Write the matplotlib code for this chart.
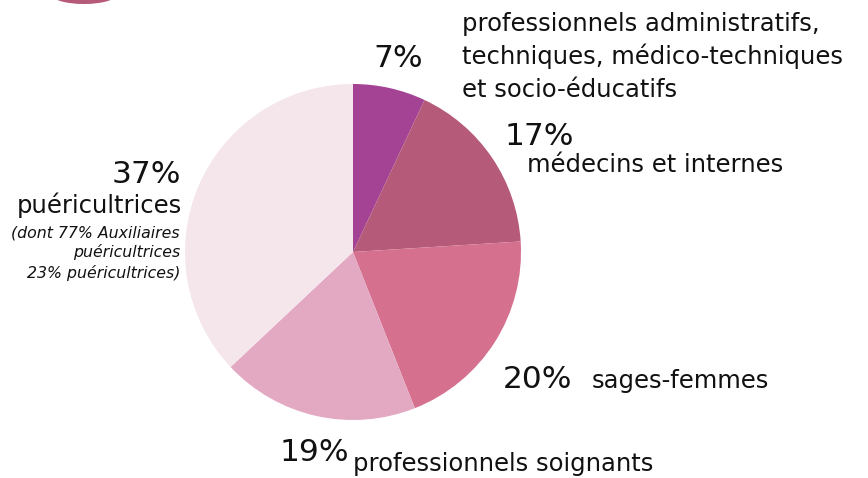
import matplotlib
matplotlib.use("Agg")
import matplotlib.pyplot as plt
from matplotlib.patches import Ellipse

# data
shares = [7, 17, 20, 19, 37]
pct_labels = ["7%", "17%", "20%", "19%", "37%"]
colors = ["#A44394", "#B55A78", "#D5708F", "#E3A9C3", "#F5E6EC"]
cat_labels = [
    ["professionnels administratifs,", "techniques, médico-techniques", "et socio-éducatifs"],
    "médecins et internes",
    "sages-femmes",
    "professionnels soignants",
    "puéricultrices",
]
note = ["(dont 77% Auxiliaires", "puéricultrices", "23% puéricultrices)"]

W, H = 868, 478
fig = plt.figure(figsize=(W / 100, H / 100), dpi=100)
ax = fig.add_axes([0, 0, 1, 1])

ax.pie(shares, colors=colors, startangle=90, counterclock=False,
       center=(353, H - 252), radius=168, frame=True,
       wedgeprops=dict(linewidth=0))
ax.set_xlim(0, W)
ax.set_ylim(0, H)
ax.set_aspect("equal")
ax.axis("off")

# decorative blob at the top left
ax.add_patch(Ellipse((84, H + 5), 64, 18, color="#B55A78", lw=0))

font = "DejaVu Sans"
big = 22.5
mid = 17.5
dark = "#111111"

def t(x, y, s, **kw):
    kw.setdefault("fontfamily", font)
    kw.setdefault("color", dark)
    ax.text(x, H - y, s, va="baseline", **kw)

t(398, 67, pct_labels[0], fontsize=big, ha="center")
for i, line in enumerate(cat_labels[0]):
    t(462, 31 + 33 * i, line, fontsize=mid)

t(505, 145, pct_labels[1], fontsize=big)
t(527, 172, cat_labels[1], fontsize=mid)

t(503, 388, pct_labels[2], fontsize=big)
t(592, 388, cat_labels[2], fontsize=mid)

t(280, 461, pct_labels[3], fontsize=big)
t(353, 471, cat_labels[3], fontsize=mid)

t(181, 183, pct_labels[4], fontsize=big, ha="right")
t(182, 213, cat_labels[4], fontsize=mid, ha="right")
for i, line in enumerate(note):
    t(180, 237 + 20.5 * i, line, fontsize=11.3, style="italic", ha="right")

fig.savefig("out.png", dpi=100)
